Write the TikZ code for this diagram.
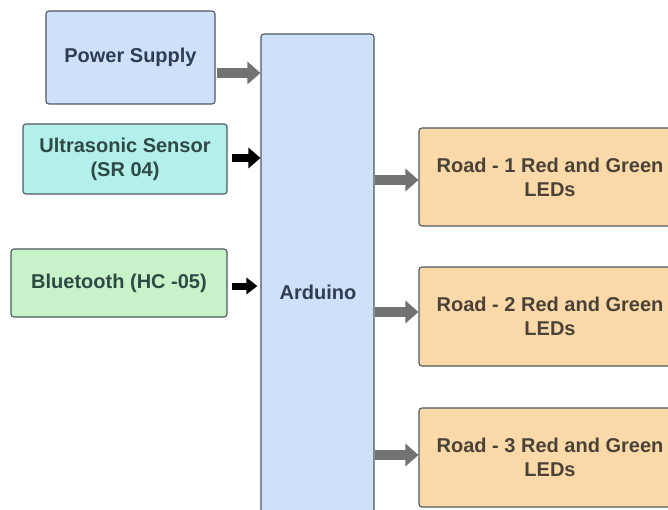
\documentclass[tikz,border=0pt]{standalone}
\usepackage{fontspec}
\setmainfont{Liberation Sans}
\usetikzlibrary{arrows.meta}
\definecolor{psfill}{HTML}{CFE0FB}
\definecolor{usfill}{HTML}{B4F0EA}
\definecolor{btfill}{HTML}{C8F2C8}
\definecolor{rdfill}{HTML}{FCD9A8}
\definecolor{edge}{HTML}{4F5862}
\definecolor{bluetxt}{HTML}{2F3D50}
\definecolor{greentxt}{HTML}{2F4A45}
\definecolor{browntxt}{HTML}{4A4238}
\definecolor{arrgray}{HTML}{727272}
\tikzset{
  blk/.style={draw=edge, line width=1.1pt, rounded corners=3pt, inner sep=0pt,
    font=\fontsize{20}{24}\selectfont\bfseries, align=center},
  grayarrow/.style={draw=arrgray, line width=10pt, -{Triangle[length=13pt,width=22pt]}},
  blackarrow/.style={draw=black, line width=8pt, -{Triangle[length=12pt,width=20pt]}},
}
\begin{document}
\begin{tikzpicture}[x=1pt,y=-1pt]
\useasboundingbox[fill=white] (0,0) rectangle (668,510);
\begin{scope}
\clip (0,0) rectangle (668,510);
\node[blk, fill=psfill, text=bluetxt, minimum width=169pt, minimum height=93pt] (ps) at (130.5,57.5) {\raisebox{3.5pt}{Power Supply}};
\node[blk, fill=usfill, text=greentxt, minimum width=204pt, minimum height=70pt] (us) at (125,159) {Ultrasonic Sensor\\(SR 04)};
\node[blk, fill=btfill, text=greentxt, minimum width=216pt, minimum height=68pt] (bt) at (119,283) {Bluetooth (HC -05)};
\node[blk, fill=psfill, minimum width=113pt, minimum height=486pt] (ard) at (317.5,277) {};
\node[font=\fontsize{20}{24}\selectfont\bfseries, text=bluetxt] (ardtxt) at (318,292) {Arduino};
\node[blk, fill=rdfill, text=browntxt, minimum width=262pt, minimum height=98pt] (r1) at (550,177) {Road - 1 Red and Green\\LEDs};
\node[blk, fill=rdfill, text=browntxt, minimum width=262pt, minimum height=99pt] (r2) at (550,316.5) {Road - 2 Red and Green\\LEDs};
\node[blk, fill=rdfill, text=browntxt, minimum width=262pt, minimum height=99pt] (r3) at (550,457.5) {Road - 3 Red and Green\\LEDs};
\end{scope}
\draw[grayarrow] ([yshift=-15.5pt]ps.east) ++(1pt,0) -- ([yshift=-15.5pt]ps.east -| ard.west);
\draw[blackarrow] ([xshift=4pt,yshift=1pt]us.east) -- ([yshift=1pt]us.east -| ard.west);
\draw[blackarrow, line width=7pt, -{Triangle[length=11pt,width=16pt]}] ([xshift=4pt,yshift=-3pt]bt.east) -- ([xshift=-3pt,yshift=-3pt]bt.east -| ard.west);
\draw[grayarrow] ([yshift=-3pt]ard.east |- r1.west) -- ([yshift=-3pt]r1.west);
\draw[grayarrow] ([yshift=4.5pt]ard.east |- r2.west) -- ([yshift=4.5pt]r2.west);
\draw[grayarrow] ([yshift=2.5pt]ard.east |- r3.west) -- ([yshift=2.5pt]r3.west);
\end{tikzpicture}
\end{document}
